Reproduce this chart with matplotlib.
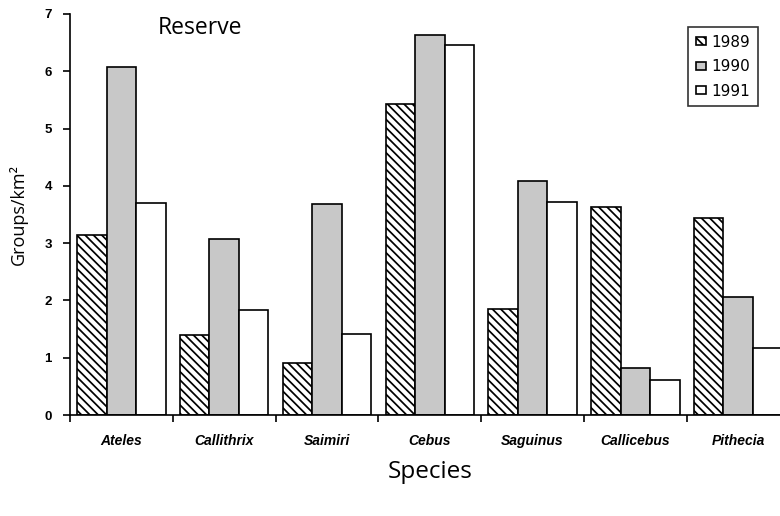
import matplotlib
matplotlib.use("Agg")
import matplotlib.pyplot as plt
import numpy as np

species = ["Ateles", "Callithrix", "Saimiri", "Cebus", "Saguinus", "Callicebus", "Pithecia"]
years = ["1989", "1990", "1991"]
groups_1989 = [3.15, 1.40, 0.90, 5.43, 1.85, 3.63, 3.44]
groups_1990 = [6.07, 3.07, 3.69, 6.63, 4.09, 0.82, 2.06]
groups_1991 = [3.70, 1.83, 1.41, 6.46, 3.71, 0.61, 1.17]
y_ticks = [0, 1, 2, 3, 4, 5, 6, 7]

plt.rcParams["hatch.linewidth"] = 1.25

fig = plt.figure(figsize=(7.8, 5.16), dpi=100)
ax = fig.add_axes([70 / 780, 101 / 516, 719.6 / 780, 401 / 516])

x = np.arange(len(species)) + 0.5
w = 0.287
styles = [
    dict(facecolor="white", hatch="\\\\\\\\"),
    dict(facecolor="#c8c8c8", hatch=None),
    dict(facecolor="white", hatch=None),
]
series = [groups_1989, groups_1990, groups_1991]
for k, (vals, st, yr) in enumerate(zip(series, styles, years)):
    ax.bar(x + (k - 1) * w, vals, width=w, edgecolor="black", linewidth=1.2,
           label=yr, **st)

ax.set_xlim(0, len(species))
ax.set_ylim(0, 7)
ax.spines["top"].set_visible(False)
ax.spines["right"].set_visible(False)
ax.spines["left"].set_linewidth(1.2)
ax.spines["bottom"].set_linewidth(1.2)

ax.set_xticks(np.arange(len(species) + 1))
ax.set_xticklabels([])
ax.set_xticks(x, minor=True)
ax.set_xticklabels(species, minor=True, fontstyle="italic", fontweight="bold",
                   family="Liberation Sans", fontsize=10)
ax.tick_params(axis="x", which="major", direction="out", length=5, width=1.2)
ax.tick_params(axis="x", which="minor", length=0, pad=14)

ax.set_yticks(y_ticks)
ax.set_yticklabels([str(t) for t in y_ticks], fontweight="bold",
                   family="Liberation Sans", fontsize=9.5)
ax.tick_params(axis="y", direction="out", length=5, width=1.2, pad=8)

ax.set_ylabel("Groups/km²", family="Open Sans", fontsize=13, labelpad=12)
ax.set_xlabel("Species", family="Open Sans", fontsize=17.5, labelpad=8)

fig.text(158 / 780, 1 - 28 / 516, "Reserve", family="Open Sans", fontsize=16.5,
         va="center", ha="left")

leg = ax.legend(loc="upper left", bbox_to_anchor=((688 - 70) / 719.6, (415 - 27) / 401),
                frameon=True, fancybox=False, edgecolor="black", fontsize=11,
                handlelength=0.65, handleheight=0.4, handletextpad=0.4,
                labelspacing=0.62, borderpad=0.5, borderaxespad=0)
leg.get_frame().set_linewidth(1.2)

fig.savefig("out.png", dpi=100)
